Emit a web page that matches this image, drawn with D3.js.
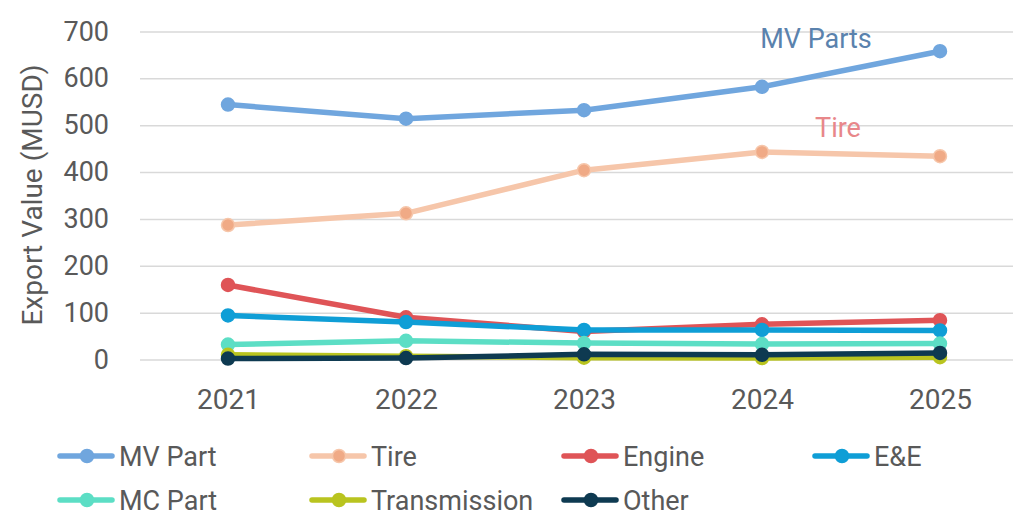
<!DOCTYPE html>
<html>
<head>
<meta charset="utf-8">
<script src="https://cdn.jsdelivr.net/npm/d3@7"></script>
<style>
  body { margin: 0; background: #fff; }
  svg { display: block; }
</style>
</head>
<body>
<div id="chart"></div>
<script>
var years = ["2021", "2022", "2023", "2024", "2025"];
var yTicks = [0, 100, 200, 300, 400, 500, 600, 700];

var mvPart = [544, 514, 532, 582, 658];
var tire = [287, 312, 404, 443, 434];
var engine = [159, 90, 60, 75, 84];
var eAndE = [94, 80, 63, 63, 62];
var mcPart = [32, 40, 35, 33, 34];
var transmission = [10, 7, 4, 3, 5];
var other = [2, 3, 11, 10, 14];

var series = [
  {name: "MV Part", values: mvPart, color: "#70a6de", marker: "#70a6de", edge: "#70a6de"},
  {name: "Tire", values: tire, color: "#f6c6aa", marker: "#f0aa86", edge: "#f6c6aa"},
  {name: "Engine", values: engine, color: "#df5457", marker: "#df5457", edge: "#df5457"},
  {name: "E&E", values: eAndE, color: "#0f9ed6", marker: "#0f9ed6", edge: "#0f9ed6"},
  {name: "MC Part", values: mcPart, color: "#5cdec5", marker: "#5cdec5", edge: "#5cdec5"},
  {name: "Transmission", values: transmission, color: "#b9c41f", marker: "#b9c41f", edge: "#b9c41f"},
  {name: "Other", values: other, color: "#0e3a51", marker: "#0e3a51", edge: "#0e3a51"}
];

var width = 1013, height = 516;
var font = "Roboto, sans-serif";

var svg = d3.select("#chart").append("svg")
  .attr("width", width)
  .attr("height", height);

var x = d3.scalePoint()
  .domain(years)
  .range([228, 940]);

var y = d3.scaleLinear()
  .domain([0, 700])
  .range([359.5, 31.5]);

// gridlines
var grid = svg.append("g")
  .attr("transform", "translate(140,0)")
  .call(d3.axisRight(y).tickValues(yTicks).tickSize(width - 140).tickFormat(""));
grid.select(".domain").remove();
grid.selectAll("line").attr("stroke", "#d9d9d9").attr("stroke-width", 1.5);

// y axis labels
var yAxis = svg.append("g")
  .attr("transform", "translate(109,0)")
  .call(d3.axisLeft(y).tickValues(yTicks).tickSize(0).tickPadding(0));
yAxis.select(".domain").remove();
yAxis.selectAll("text")
  .attr("fill", "#595959")
  .style("font-family", font)
  .style("font-size", "27px");

// x axis labels
var xAxis = svg.append("g")
  .attr("transform", "translate(0,389)")
  .call(d3.axisBottom(x).tickSize(0).tickPadding(0));
xAxis.select(".domain").remove();
xAxis.selectAll("text")
  .attr("fill", "#595959")
  .attr("dy", "0.71em")
  .style("font-family", font)
  .style("font-size", "28px");

svg.append("text")
  .attr("transform", "translate(42,195) rotate(-90)")
  .attr("text-anchor", "middle")
  .attr("fill", "#595959")
  .style("font-family", font)
  .style("font-size", "28px")
  .text("Export Value (MUSD)");

var line = d3.line()
  .x(function (d, i) { return x(years[i]); })
  .y(function (d) { return y(d); });

series.forEach(function (s) {
  var g = svg.append("g");
  g.append("path")
    .datum(s.values)
    .attr("fill", "none")
    .attr("stroke", s.color)
    .attr("stroke-width", 5.5)
    .attr("stroke-linejoin", "round")
    .attr("d", line);
  g.selectAll("circle")
    .data(s.values)
    .enter().append("circle")
    .attr("cx", function (d, i) { return x(years[i]); })
    .attr("cy", function (d) { return y(d); })
    .attr("r", 6.5)
    .attr("fill", s.marker)
    .attr("stroke", s.edge)
    .attr("stroke-width", 1.5);
});

// annotations
svg.append("text")
  .attr("x", 816).attr("y", 48)
  .attr("text-anchor", "middle")
  .attr("fill", "#5a82ad")
  .style("font-family", font)
  .style("font-size", "27px")
  .text("MV Parts");

svg.append("text")
  .attr("x", 838).attr("y", 137)
  .attr("text-anchor", "middle")
  .attr("fill", "#e8878a")
  .style("font-family", font)
  .style("font-size", "27px")
  .text("Tire");

// legend
var legendX = [58, 310, 562, 813];
var legendY = [456, 500];
var legend = svg.append("g");
series.forEach(function (s, i) {
  var lx = i < 4 ? legendX[i] : legendX[i - 4];
  var ly = i < 4 ? legendY[0] : legendY[1];
  var item = legend.append("g").attr("transform", "translate(" + lx + "," + ly + ")");
  item.append("line")
    .attr("x1", 2).attr("x2", 54)
    .attr("stroke", s.color)
    .attr("stroke-width", 5.5)
    .attr("stroke-linecap", "round");
  item.append("circle")
    .attr("cx", 29).attr("r", 6.5)
    .attr("fill", s.marker)
    .attr("stroke", s.edge)
    .attr("stroke-width", 1.5);
  item.append("text")
    .attr("x", 61)
    .attr("dy", "0.355em")
    .attr("fill", "#595959")
    .style("font-family", font)
    .style("font-size", "27px")
    .text(s.name);
});
</script>
</body>
</html>
